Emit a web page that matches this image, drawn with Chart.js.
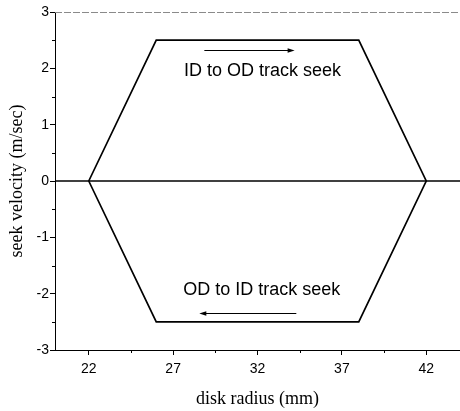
<!DOCTYPE html>
<html>
<head>
<meta charset="utf-8">
<script src="https://cdn.jsdelivr.net/npm/chart.js@4/dist/chart.umd.min.js"></script>
<style>
  html, body { margin: 0; padding: 0; background: #fff; }
  canvas { display: block; }
</style>
</head>
<body>
<canvas id="c" width="460" height="411"></canvas>
<script>
// ---- data ----
const radius   = [22, 26, 38, 42, 38, 26, 22];        // disk radius (mm)
const velocity = [0, 2.5, 2.5, 0, -2.5, -2.5, 0];     // seek velocity (m/sec)
const zeroLineX = [20, 44];
const zeroLineY = [0, 0];
const xTickValues = [22, 27, 32, 37, 42];
const xMinorTicks = [24.5, 29.5, 34.5, 39.5];
const yMinorTicks = [-2.5, -1.5, -0.5, 0.5, 1.5, 2.5];
const noteTexts = ['ID to OD track seek', 'OD to ID track seek'];

// annotation anchors (data units)
const noteAnchors = [[32.3, 1.95], [32.25, -1.94]];
const arrowAnchors = [[[28.85, 2.33], [34.2, 2.33]], [[34.3, -2.34], [28.55, -2.34]]];

const extras = {
  id: 'extras',
  afterDraw(chart) {
    const ctx = chart.ctx;
    const xs = chart.scales.x, ys = chart.scales.y;
    const area = chart.chartArea;
    ctx.save();
    // faint top border
    ctx.strokeStyle = '#8a8a8a';
    ctx.lineWidth = 1;
    ctx.setLineDash([7, 2]);
    ctx.beginPath();
    ctx.moveTo(area.left, area.top + 0.5);
    ctx.lineTo(area.right, area.top + 0.5);
    ctx.stroke();
    ctx.setLineDash([]);
    // minor ticks
    ctx.strokeStyle = '#000';
    ctx.beginPath();
    xMinorTicks.forEach(v => {
      const px = Math.round(xs.getPixelForValue(v)) + 0.5;
      ctx.moveTo(px, area.bottom);
      ctx.lineTo(px, area.bottom + 3);
    });
    yMinorTicks.forEach(v => {
      const py = Math.round(ys.getPixelForValue(v)) + 0.5;
      ctx.moveTo(area.left, py);
      ctx.lineTo(area.left - 3, py);
    });
    ctx.stroke();
    // arrows
    ctx.lineWidth = 1;
    arrowAnchors.forEach(a => {
      const x1 = xs.getPixelForValue(a[0][0]), y1 = Math.round(ys.getPixelForValue(a[0][1])) + 0.5;
      const x2 = xs.getPixelForValue(a[1][0]), y2 = Math.round(ys.getPixelForValue(a[1][1])) + 0.5;
      const dir = Math.sign(x2 - x1);
      ctx.beginPath();
      ctx.moveTo(x1, y1);
      ctx.lineTo(x2 - dir * 5, y2);
      ctx.stroke();
      ctx.beginPath();
      ctx.moveTo(x2, y2);
      ctx.lineTo(x2 - dir * 7, y2 - 2.2);
      ctx.lineTo(x2 - dir * 7, y2 + 2.2);
      ctx.closePath();
      ctx.fillStyle = '#000';
      ctx.fill();
    });
    // notes
    ctx.fillStyle = '#000';
    ctx.font = '18px "Liberation Sans", Arial, sans-serif';
    ctx.textAlign = 'center';
    ctx.textBaseline = 'middle';
    noteTexts.forEach((t, i) => {
      ctx.fillText(t, xs.getPixelForValue(noteAnchors[i][0]), ys.getPixelForValue(noteAnchors[i][1]));
    });
    ctx.restore();
  }
};

new Chart(document.getElementById('c'), {
  type: 'scatter',
  data: {
    datasets: [
      {
        data: zeroLineX.map((x, i) => ({ x, y: zeroLineY[i] })),
        showLine: true,
        borderColor: '#000',
        borderWidth: 1.5,
        pointRadius: 0,
        fill: false
      },
      {
        data: radius.map((x, i) => ({ x, y: velocity[i] })),
        showLine: true,
        borderColor: '#000',
        borderWidth: 1.7,
        pointRadius: 0,
        fill: false,
        tension: 0
      }
    ]
  },
  options: {
    responsive: false,
    animation: false,
    devicePixelRatio: 1,
    layout: { padding: { top: 12, right: 0, left: 0, bottom: 0 } },
    plugins: { legend: { display: false }, tooltip: { enabled: false } },
    scales: {
      x: {
        type: 'linear',
        min: 20,
        max: 44,
        afterBuildTicks: s => { s.ticks = xTickValues.map(v => ({ value: v })); },
        afterFit: s => { s.height = 61; },
        grid: { drawOnChartArea: false, drawTicks: true, tickLength: 5, color: '#000', tickColor: '#000' },
        border: { display: true, color: '#000', width: 1 },
        ticks: { color: '#000', padding: 6, font: { family: '"Liberation Sans", Arial, sans-serif', size: 14 } },
        title: {
          display: true,
          text: 'disk radius (mm)',
          color: '#000',
          font: { family: '"Liberation Serif", "Times New Roman", serif', size: 18 },
          padding: { top: 0, bottom: 1 }
        }
      },
      y: {
        type: 'linear',
        min: -3,
        max: 3,
        ticks: { stepSize: 1, color: '#000', padding: 1, font: { family: '"Liberation Sans", Arial, sans-serif', size: 14 } },
        afterFit: s => { s.width = 55; },
        grid: { drawOnChartArea: false, drawTicks: true, tickLength: 5, color: '#000', tickColor: '#000' },
        border: { display: true, color: '#000', width: 1 },
        title: {
          display: true,
          text: 'seek velocity (m/sec)',
          color: '#000',
          font: { family: '"Liberation Serif", "Times New Roman", serif', size: 18 },
          padding: { top: 6, bottom: 0 }
        }
      }
    }
  },
  plugins: [extras]
});
</script>
</body>
</html>
